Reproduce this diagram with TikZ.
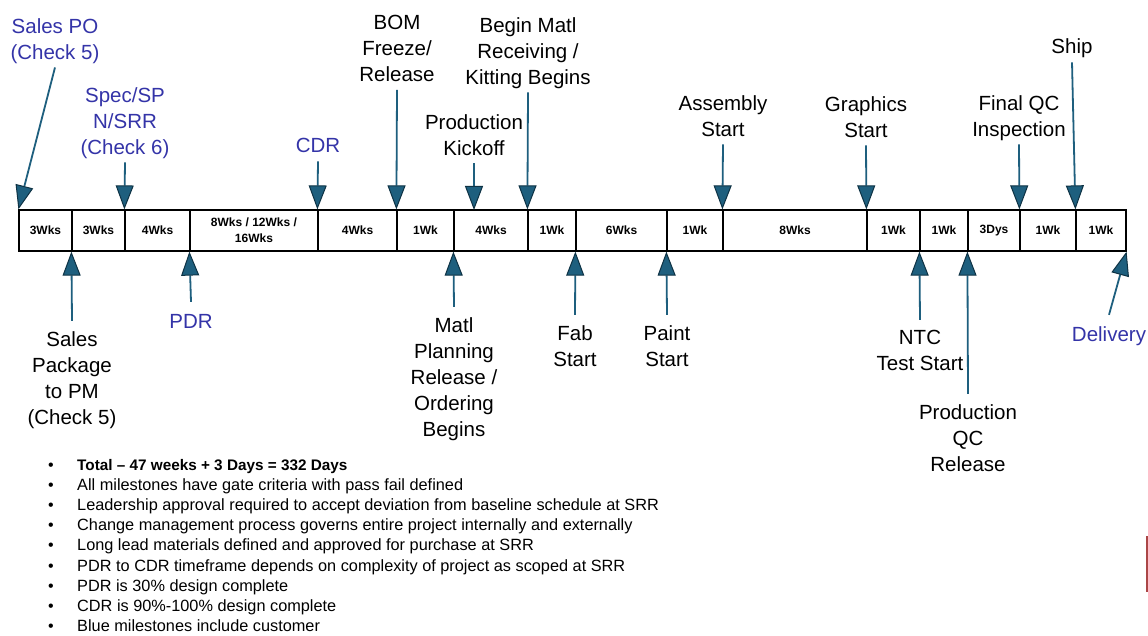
\documentclass[tikz,border=0pt]{standalone}
\usepackage{fontspec}
\setmainfont{Liberation Sans}
\usetikzlibrary{arrows.meta}
\definecolor{tealA}{RGB}{30,95,126}
\definecolor{tealD}{RGB}{14,50,68}
\definecolor{custblue}{RGB}{52,52,168}
\definecolor{edgered}{RGB}{170,70,70}
\tikzset{
  cell/.style={draw=black, line width=1.2pt, minimum height=41pt, inner sep=0pt,
    font=\fontsize{12}{16}\selectfont\bfseries, align=center},
  lbl/.style={inner xsep=0pt, outer sep=0pt, align=center,
    font=\fontsize{20.5}{26}\selectfont,
    execute at begin node=\strut, execute at end node=\strut},
  toplbl/.style={lbl, anchor=north, inner ysep=0.5pt},
  botlbl/.style={lbl, anchor=north, inner ysep=10.5pt},
  cust/.style={text=custblue},
  ms/.style={draw=tealA, line width=1.8pt,
    -{Triangle[length=24pt,width=18pt,fill=tealA,color=tealD,line width=1pt]}},
  bul/.style={anchor=base, inner sep=0pt, font=\fontsize{16}{18}\selectfont},
  btxt/.style={anchor=base west, inner sep=0pt, font=\fontsize{16.3}{18}\selectfont},
}
\begin{document}
\begin{tikzpicture}[x=1pt,y=-1pt]
\useasboundingbox (0,0) rectangle (1148,636);
\fill[white] (0,0) rectangle (1148,636);

% ---- timeline cells ----
\node[cell, minimum width=53pt]  (c1)  at (45.5,230.5)  {3Wks};
\node[cell, minimum width=53pt]  (c2)  at (98.5,230.5)  {3Wks};
\node[cell, minimum width=65pt]  (c3)  at (157.5,230.5) {4Wks};
\node[cell, minimum width=128pt] (c4)  at (254,230.5)   {8Wks / 12Wks /\\16Wks};
\node[cell, minimum width=79pt]  (c5)  at (357.5,230.5) {4Wks};
\node[cell, minimum width=57pt]  (c6)  at (425.5,230.5) {1Wk};
\node[cell, minimum width=74pt]  (c7)  at (491,230.5)   {4Wks};
\node[cell, minimum width=48pt]  (c8)  at (552,230.5)   {1Wk};
\node[cell, minimum width=91pt]  (c9)  at (621.5,230.5) {6Wks};
\node[cell, minimum width=56pt]  (c10) at (695,230.5)   {1Wk};
\node[cell, minimum width=144pt] (c11) at (795,230.5)   {8Wks};
\node[cell, minimum width=53pt]  (c12) at (893.5,230.5) {1Wk};
\node[cell, minimum width=48pt]  (c13) at (944,230.5)   {1Wk};
\node[cell, minimum width=52pt]  (c14) at (994,230.5)   {3Dys};
\node[cell, minimum width=56pt]  (c15) at (1048,230.5)  {1Wk};
\node[cell, minimum width=50pt]  (c16) at (1101,230.5)  {1Wk};
\coordinate (kt) at (474,210);

% ---- top milestones ----
\node[toplbl, cust] (spo)  at (55,17.8)    {Sales PO\\(Check 5)};
\node[toplbl, cust] (spec) at (125,86.8)   {Spec/SP\\N/SRR\\(Check 6)};
\node[toplbl, cust] (cdr)  at (318,134.3)  {CDR};
\node[toplbl]       (bom)  at (397,14.8)   {BOM\\Freeze/\\Release};
\node[toplbl]       (pko)  at (474,113.8)  {Production\\Kickoff};
\node[toplbl]       (bmr)  at (528,16.8)   {Begin Matl\\Receiving /\\Kitting Begins};
\node[toplbl]       (asm)  at (723,94.8)   {Assembly\\Start};
\node[toplbl]       (gra)  at (866,95.8)   {Graphics\\Start};
\node[toplbl]       (fqc)  at (1019,94.8)  {Final QC\\Inspection};
\node[toplbl]       (shp)  at (1072,35.3)  {Ship};

\draw[ms] (spo.south)  -- (c1.north west);
\draw[ms] (spec.south) -- (c3.north west);
\draw[ms] (cdr.south)  -- (c5.north west);
\draw[ms] (bom.south)  -- (c6.north west);
\draw[ms] (pko.south)  -- (kt);
\draw[ms] (bmr.south)  -- (c8.north west);
\draw[ms] (asm.south)  -- (c11.north west);
\draw[ms] (gra.south)  -- (c12.north west);
\draw[ms] (fqc.south)  -- (c15.north west);
\draw[ms] (shp.south)  -- (c16.north west);

% ---- bottom milestones ----
\node[botlbl]       (spk)  at (72,320.8)   {Sales\\Package\\to PM\\(Check 5)};
\node[botlbl, cust, inner ysep=8pt] (pdr)  at (191,301.8)  {PDR};
\node[botlbl]       (mpr)  at (454,306.8)  {Matl\\Planning\\Release /\\Ordering\\Begins};
\node[botlbl]       (fab)  at (575,314.8)  {Fab\\Start};
\node[botlbl]       (pnt)  at (667,314.8)  {Paint\\Start};
\node[botlbl]       (ntc)  at (920,319.8)  {NTC\\Test Start};
\node[botlbl]       (pqc)  at (968,393.8)  {Production\\QC\\Release};
\node[botlbl, cust, inner ysep=8pt] (dlv)  at (1109,314.8) {Delivery};

\draw[ms] (spk.north) -- (c2.south west);
\draw[ms] (pdr.north) -- (c4.south west);
\draw[ms] (mpr.north) -- (c7.south west);
\draw[ms] (fab.north) -- (c9.south west);
\draw[ms] (pnt.north) -- (c10.south west);
\draw[ms] (ntc.north) -- (c13.south west);
\draw[ms] (pqc.north) -- (c14.south west);
\draw[ms] (dlv.north) -- (c16.south east);

% ---- notes ----
\node[bul] (d1) at (51,470.5) {•};
\node[btxt, font=\fontsize{15.3}{18}\selectfont\bfseries] (n1) at (77,470.5) {Total – 47 weeks + 3 Days = 332 Days};
\node[bul] (d2) at (51,490.6) {•};
\node[btxt] (n2) at (77,490.6) {All milestones have gate criteria with pass fail defined};
\node[bul] (d3) at (51,510.7) {•};
\node[btxt] (n3) at (77,510.7) {Leadership approval required to accept deviation from baseline schedule at SRR};
\node[bul] (d4) at (51,530.8) {•};
\node[btxt] (n4) at (77,530.8) {Change management process governs entire project internally and externally};
\node[bul] (d5) at (51,550.9) {•};
\node[btxt] (n5) at (77,550.9) {Long lead materials defined and approved for purchase at SRR};
\node[bul] (d6) at (51,571) {•};
\node[btxt] (n6) at (77,571) {PDR to CDR timeframe depends on complexity of project as scoped at SRR};
\node[bul] (d7) at (51,591.1) {•};
\node[btxt] (n7) at (77,591.1) {PDR is 30\% design complete};
\node[bul] (d8) at (51,611.2) {•};
\node[btxt] (n8) at (77,611.2) {CDR is 90\%-100\% design complete};
\node[bul] (d9) at (51,631.3) {•};
\node[btxt] (n9) at (77,631.3) {Blue milestones include customer};

\draw[edgered, line width=1.5pt] (1147.2,536) -- (1147.2,592);
\end{tikzpicture}
\end{document}
